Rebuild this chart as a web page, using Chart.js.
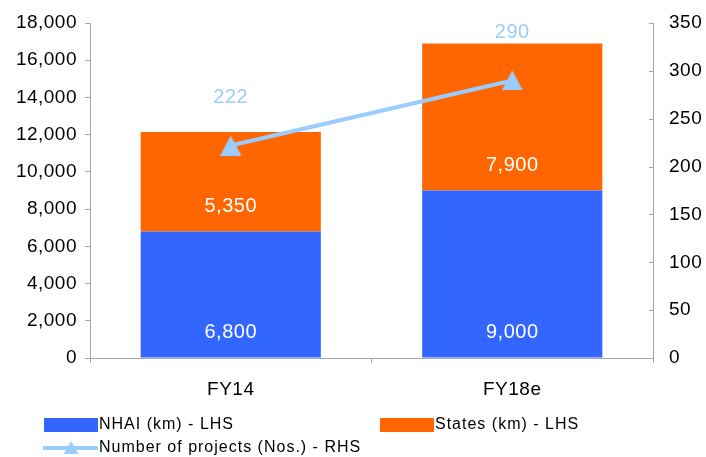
<!DOCTYPE html>
<html>
<head>
<meta charset="utf-8">
<script src="https://cdn.jsdelivr.net/npm/chart.js@4/dist/chart.umd.min.js"></script>
<style>
  html, body { margin: 0; padding: 0; background: #fff; }
  #wrap { width: 706px; height: 457px; position: relative; }
</style>
</head>
<body>
<div id="wrap"><canvas id="c" width="706" height="457"></canvas></div>
<script>
// Road construction: km built by NHAI and States, plus number of projects
const categories = ['FY14', 'FY18e'];
const nhaiKm = [6800, 9000];
const statesKm = [5350, 7900];
const projects = [222, 290];
const leftTicks = [0, 2000, 4000, 6000, 8000, 10000, 12000, 14000, 16000, 18000];
const rightTicks = [0, 50, 100, 150, 200, 250, 300, 350];

const BLUE = '#3366FF';
const ORANGE = '#FF6600';
const LIGHT = '#99CCFF';
const AXIS = '#A6A6A6';
const FONT = "'Liberation Sans', Arial, sans-serif";

// triangle marker drawn into a small canvas
function triangleMarker(w, h) {
  const cv = document.createElement('canvas');
  cv.width = w; cv.height = h;
  const g = cv.getContext('2d');
  g.fillStyle = LIGHT;
  g.beginPath();
  g.moveTo(w / 2, 0);
  g.lineTo(w, h);
  g.lineTo(0, h);
  g.closePath();
  g.fill();
  return cv;
}
const marker = triangleMarker(21, 20);
const legendMarker = triangleMarker(15, 13);

const fmt = v => v.toLocaleString('en-US');

// slightly wider text spacing for all canvas text
const spacing = {
  id: 'spacing',
  beforeLayout(chart) { chart.ctx.letterSpacing = '0.5px'; },
  beforeDraw(chart) { chart.ctx.letterSpacing = '0.5px'; }
};

// value labels, inward right-axis ticks and legend
const decorations = {
  id: 'decorations',
  afterDatasetsDraw(chart) {
    const ctx = chart.ctx;
    ctx.save();
    ctx.textAlign = 'center';
    ctx.textBaseline = 'middle';
    ctx.font = '20px ' + FONT;
    [0, 1].forEach(di => {
      const meta = chart.getDatasetMeta(di);
      ctx.fillStyle = '#FFFFFF';
      meta.data.forEach((el, i) => {
        ctx.fillText(fmt(chart.data.datasets[di].data[i]), el.x, el.base - 25);
      });
    });
    const lm = chart.getDatasetMeta(2);
    ctx.fillStyle = LIGHT;
    lm.data.forEach((el, i) => {
      ctx.fillText(fmt(chart.data.datasets[2].data[i]), el.x, el.y - 48);
    });

    // right axis tick marks point into the plot
    const y1 = chart.scales.y1;
    ctx.strokeStyle = AXIS;
    ctx.lineWidth = 1;
    rightTicks.forEach(v => {
      const py = Math.round(y1.getPixelForValue(v)) + 0.5;
      ctx.beginPath();
      ctx.moveTo(y1.left - 4, py);
      ctx.lineTo(y1.left, py);
      ctx.stroke();
    });
    ctx.restore();
  },
  afterDraw(chart) {
    const ctx = chart.ctx;
    ctx.save();
    ctx.letterSpacing = '1px';
    ctx.font = '16px ' + FONT;
    ctx.textAlign = 'left';
    ctx.textBaseline = 'middle';
    ctx.fillStyle = BLUE;
    ctx.fillRect(44, 418, 54, 14);
    ctx.fillStyle = ORANGE;
    ctx.fillRect(380, 418, 54, 14);
    ctx.strokeStyle = LIGHT;
    ctx.lineWidth = 4;
    ctx.beginPath();
    ctx.moveTo(43, 448);
    ctx.lineTo(98, 448);
    ctx.stroke();
    ctx.drawImage(legendMarker, 71 - 7.5, 448 - 7);
    ctx.fillStyle = '#000';
    const ds = chart.data.datasets;
    ctx.fillText(ds[0].label, 99, 425);
    ctx.fillText(ds[1].label, 435, 425);
    ctx.fillText(ds[2].label, 99, 448);
    ctx.restore();
  }
};

new Chart(document.getElementById('c'), {
  data: {
    labels: categories,
    datasets: [
      { type: 'bar', label: 'NHAI (km) - LHS', data: nhaiKm, backgroundColor: BLUE,
        yAxisID: 'y', order: 2, barPercentage: 0.64, categoryPercentage: 1 },
      { type: 'bar', label: 'States (km) - LHS', data: statesKm, backgroundColor: ORANGE,
        yAxisID: 'y', order: 2, barPercentage: 0.64, categoryPercentage: 1 },
      { type: 'line', label: 'Number of projects (Nos.) - RHS', data: projects,
        borderColor: LIGHT, borderWidth: 4, pointStyle: marker, pointRadius: 10,
        backgroundColor: LIGHT, yAxisID: 'y1', order: 1 }
    ]
  },
  options: {
    responsive: false,
    animation: false,
    events: [],
    layout: { padding: { top: 23, right: 0, bottom: 0, left: 0 } },
    plugins: { legend: { display: false }, tooltip: { enabled: false } },
    scales: {
      x: {
        stacked: true,
        offset: true,
        grid: { display: true, drawOnChartArea: false, offset: true, tickLength: 5, color: AXIS },
        border: { color: AXIS, width: 1 },
        ticks: { color: '#000', font: { family: FONT, size: 19 }, padding: 15 },
        afterFit(s) { s.height = 99; }
      },
      y: {
        stacked: true,
        position: 'left',
        min: 0, max: 18000,
        afterBuildTicks(s) { s.ticks = leftTicks.map(v => ({ value: v })); },
        grid: { display: true, drawOnChartArea: false, tickLength: 5, color: AXIS },
        border: { color: AXIS, width: 1 },
        ticks: { color: '#000', font: { family: FONT, size: 19 }, padding: 8,
                 callback: v => fmt(v) },
        afterFit(s) { s.width = 90; }
      },
      y1: {
        position: 'right',
        min: 0, max: 350,
        afterBuildTicks(s) { s.ticks = rightTicks.map(v => ({ value: v })); },
        grid: { display: false },
        border: { color: AXIS, width: 1 },
        ticks: { color: '#000', font: { family: FONT, size: 19 }, padding: 8 },
        afterFit(s) { s.width = 53; }
      }
    }
  },
  plugins: [spacing, decorations]
});
</script>
</body>
</html>
